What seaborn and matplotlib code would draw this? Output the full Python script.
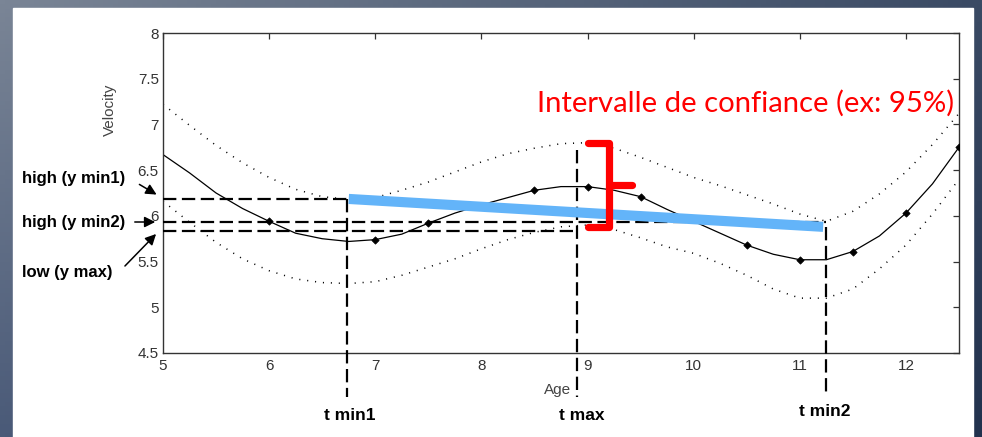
import numpy as np
import pandas as pd
import matplotlib
matplotlib.use("Agg")
import matplotlib.pyplot as plt
import seaborn as sns
from matplotlib import font_manager

# ---------------- data ----------------
age = [5.0, 5.25, 5.5, 5.75, 6.0, 6.25, 6.5, 6.75, 7.0, 7.25, 7.5, 7.75, 8.0, 8.25,
       8.5, 8.75, 9.0, 9.25, 9.5, 9.75, 10.0, 10.25, 10.5, 10.75, 11.0, 11.25,
       11.5, 11.75, 12.0, 12.25, 12.5]
velocity = [6.67, 6.47, 6.25, 6.08, 5.94, 5.81, 5.75, 5.72, 5.74, 5.80, 5.92, 6.03,
            6.12, 6.20, 6.28, 6.32, 6.32, 6.28, 6.21, 6.07, 5.94, 5.81, 5.68, 5.58,
            5.52, 5.52, 5.61, 5.78, 6.03, 6.35, 6.75]
upper_ci = [7.22, 6.99, 6.77, 6.58, 6.42, 6.29, 6.21, 6.18, 6.20, 6.28, 6.37, 6.48,
            6.59, 6.68, 6.74, 6.79, 6.80, 6.74, 6.64, 6.53, 6.42, 6.33, 6.23, 6.13,
            6.02, 5.94, 6.05, 6.24, 6.48, 6.78, 7.12]
lower_ci = [6.16, 5.93, 5.71, 5.53, 5.40, 5.31, 5.27, 5.26, 5.28, 5.35, 5.44, 5.53,
            5.64, 5.74, 5.82, 5.88, 5.90, 5.85, 5.76, 5.66, 5.59, 5.48, 5.35, 5.20,
            5.10, 5.10, 5.20, 5.42, 5.68, 6.02, 6.40]
marker_age = [6.0, 7.0, 7.5, 8.5, 9.0, 9.5, 10.5, 11.0, 11.5, 12.0, 12.5]

t_names = ["t min1", "t max", "t min2"]
t_values = [6.73, 8.90, 11.25]
t_tops = [6.185, 6.72, 5.88]
level_names = ["high (y min1)", "high (y min2)", "low (y max)"]
level_values = [6.185, 5.933, 5.838]
level_ends = [6.73, 11.25, 8.90]

trend_x = [6.75, 11.22]
trend_y = [6.185, 5.88]

ci_label = "Intervalle de confiance (ex: 95%)"
x_ticks = [5, 6, 7, 8, 9, 10, 11, 12]
y_ticks = [4.5, 5, 5.5, 6, 6.5, 7, 7.5, 8]

# ---------------- figure ----------------
sns.set_theme(style="white")
plt.rcParams["font.family"] = ["Liberation Sans", "DejaVu Sans"]

W, H = 982, 437
fig = plt.figure(figsize=(W / 100, H / 100), dpi=100)

def fp(x, y):
    return (x / W, 1 - y / H)

# slide background gradient
bg = fig.add_axes([0, 0, 1, 1], zorder=-10)
tl = np.array([122, 133, 150]) / 255
bl = np.array([74, 90, 120]) / 255
tr = np.array([58, 74, 100]) / 255
br = np.array([34, 50, 78]) / 255
u = np.linspace(0, 1, 200)[None, :, None]
v = np.linspace(0, 1, 100)[:, None, None]
grad = (1 - u) * (1 - v) * tl + u * (1 - v) * tr + (1 - u) * v * bl + u * v * br
bg.imshow(grad, aspect="auto", extent=[0, 1, 0, 1])
bg.add_patch(plt.Rectangle(fp(13, 437), (973 - 13) / W, (437 - 8) / H,
                           transform=bg.transAxes, color="white", zorder=2))
bg.set_xlim(0, 1); bg.set_ylim(0, 1)
bg.axis("off")

ax = fig.add_axes([163 / W, (H - 353) / H, (959 - 163) / W, (353 - 33) / H])
ax.set_facecolor("white")

df = pd.DataFrame({"age": age, "velocity": velocity, "upper": upper_ci, "lower": lower_ci})

sns.lineplot(data=df, x="age", y="upper", ax=ax, color="black", lw=1.1,
             dashes=False, estimator=None, sort=False)
sns.lineplot(data=df, x="age", y="lower", ax=ax, color="black", lw=1.1,
             dashes=False, estimator=None, sort=False)
for ln in ax.lines:
    ln.set_dashes((0.7, 4.5))
sns.lineplot(data=df, x="age", y="velocity", ax=ax, color="black", lw=0.9,
             estimator=None, sort=False)
mk = df[df["age"].isin(marker_age)]
sns.scatterplot(data=mk, x="age", y="velocity", ax=ax, marker="D", s=14,
                color="black", edgecolor="black", linewidth=0.5, zorder=4)

dash = (6, 2.5)
for yv, xe in zip(level_values, level_ends):
    ax.plot([5.0, xe], [yv, yv], color="black", lw=1.6, dashes=dash, zorder=3)
for tv, top in zip(t_values, t_tops):
    ax.plot([tv, tv], [top, 4.02], color="black", lw=1.6, dashes=dash,
            zorder=3, clip_on=False)

# trend line (blue)
ax.plot(trend_x, trend_y, color="#63b4f9", lw=7.3, solid_capstyle="butt", zorder=5)

# red bracket
bx0, bx1, bx2 = 9.0, 9.205, 9.42
ytop, ybot = 6.80, 5.88
ymid = (ytop + ybot) / 2
ax.plot([bx0, bx1, bx1, bx0], [ytop, ytop, ybot, ybot], color="#ff0000", lw=5.2,
        solid_capstyle="round", solid_joinstyle="round", zorder=6, clip_on=False)
ax.plot([bx1, bx2], [ymid, ymid], color="#ff0000", lw=5.2,
        solid_capstyle="round", zorder=6)

ax.set_xlim(5, 12.5)
ax.set_ylim(4.5, 8)
ax.set_xticks(x_ticks)
ax.set_yticks(y_ticks)
ax.set_xticklabels([f"{t:g}" for t in x_ticks])
ax.set_yticklabels([f"{t:g}" for t in y_ticks])
ax.tick_params(direction="in", length=4, width=0.9, top=True, right=True,
               labelsize=11, labelcolor="#333333", color="#333333", pad=3)
ax.tick_params(axis="x", pad=4)
for s in ax.spines.values():
    s.set_visible(True)
    s.set_color("#333333")
    s.set_linewidth(1.0)
ax.set_xlabel("")
ax.set_ylabel("")

fig.text(*fp(110, 110), "Velocity", rotation=90, ha="center", va="center",
         fontsize=11, color="#444444")
fig.text(*fp(558, 390), "Age", ha="center", va="center", fontsize=11, color="#444444")

# bold annotation font
names = {f.name for f in font_manager.fontManager.ttflist}
if "Liberation Sans Narrow" in names:
    bfam, bsize, tsize = ["Liberation Sans Narrow", "DejaVu Sans"], 13.5, 13.0
else:
    bfam, bsize, tsize = ["Liberation Sans", "DejaVu Sans"], 12.0, 12.5

t_label_x = [350, 582, 825]
t_label_y = [415, 415, 412]
for name, lx, ly in zip(t_names, t_label_x, t_label_y):
    fig.text(*fp(lx, ly), name, ha="center", va="center", fontsize=tsize,
             fontweight="bold", family=bfam, color="black")

lev_y = [179, 223, 273]
for name, ly in zip(level_names, lev_y):
    fig.text(*fp(22, ly), name, ha="left", va="center", fontsize=bsize,
             fontweight="bold", family=bfam, color="black")

arrows = [((137, 183), (159, 196)), ((132, 222), (158, 222)), ((123, 268), (158, 232))]
for (x0, y0), (x1, y1) in arrows:
    fig.add_artist(matplotlib.patches.FancyArrowPatch(
        fp(x0, y0), fp(x1, y1), transform=fig.transFigure,
        arrowstyle="-|>", mutation_scale=16, color="black", lw=1.1))

fig.text(*fp(537, 103), ci_label, ha="left", va="center", fontsize=21.1,
         color="#ff0000", family=["Lato", "DejaVu Sans"])

fig.savefig("out.png", dpi=100)
